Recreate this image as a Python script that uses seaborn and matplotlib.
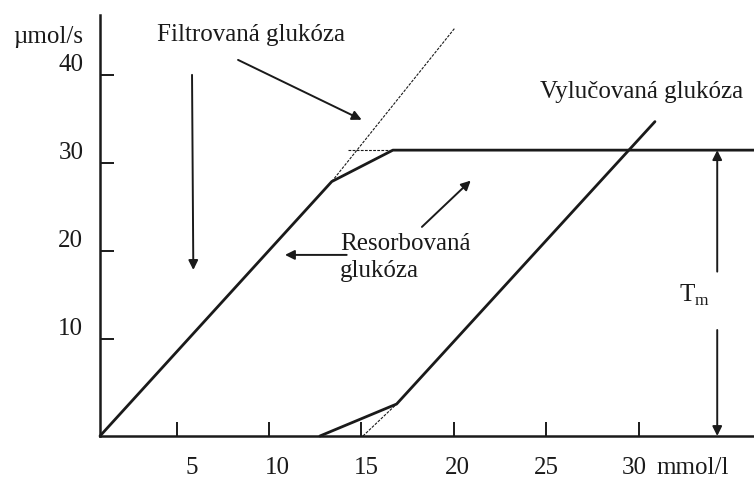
import matplotlib
matplotlib.use("Agg")
import matplotlib.pyplot as plt
import matplotlib.transforms as mtrans
import pandas as pd
import seaborn as sns

# === data (chart units)
filtered_x = [0.85, 13.39, 16.70, 36.24]
filtered_y = [-1.02, 27.88, 31.45, 31.45]
filtered_ext_x = [13.39, 20.06]
filtered_ext_y = [27.88, 45.34]
tm_ext_x = [14.26, 16.70]
tm_ext_y = [31.45, 31.45]
excreted_x = [12.75, 16.90, 30.88]
excreted_y = [-1.02, 2.61, 34.69]
excreted_ext_x = [15.08, 16.90]
excreted_ext_y = [-1.02, 2.61]

x_ticks = [5, 10, 15, 20, 25, 30]
y_ticks = [10, 20, 30, 40]

# === style
sns.set_theme(style="white")
plt.rcParams["font.family"] = ["Liberation Serif", "DejaVu Serif"]
plt.rcParams["mathtext.fontset"] = "custom"
plt.rcParams["mathtext.rm"] = "Liberation Serif"
ink = "#1a1a1a"
fs = 18

fig = plt.figure(figsize=(7.54, 4.79), dpi=100)
ax = fig.add_axes([100 / 754, 43 / 479, 654 / 754, 421 / 479])

solid = dict(color=ink, lw=2.0, sort=False, estimator=None, clip_on=False, ax=ax)
dashed = dict(color=ink, lw=0.8, ls=(0, (2.5, 1.2)), sort=False, estimator=None, ax=ax)

sns.lineplot(data=pd.DataFrame({"x": filtered_x, "y": filtered_y}), x="x", y="y", **solid)
sns.lineplot(data=pd.DataFrame({"x": excreted_x, "y": excreted_y}), x="x", y="y", **solid)
sns.lineplot(data=pd.DataFrame({"x": filtered_ext_x, "y": filtered_ext_y}), x="x", y="y", **dashed)
sns.lineplot(data=pd.DataFrame({"x": tm_ext_x, "y": tm_ext_y}), x="x", y="y", **dashed)
sns.lineplot(data=pd.DataFrame({"x": excreted_ext_x, "y": excreted_ext_y}), x="x", y="y", **dashed)

ax.set_xlim(0.85, 36.24)
ax.set_ylim(-1.02, 46.8)
ax.set_xlabel("")
ax.set_ylabel("")
for s in ["top", "right"]:
    ax.spines[s].set_visible(False)
for s in ["left", "bottom"]:
    ax.spines[s].set_linewidth(1.8)
    ax.spines[s].set_color(ink)

ax.set_xticks(x_ticks)
ax.set_xticklabels([str(t) for t in x_ticks])
ax.set_yticks(y_ticks)
ax.set_yticklabels([str(t) for t in y_ticks])
ax.tick_params(axis="both", direction="in", length=10, width=1.4, color=ink,
               labelsize=fs, labelcolor=ink, bottom=True, left=True)
ax.tick_params(axis="x", pad=15)
ax.tick_params(axis="y", pad=12)
# hand-set labels in the original sit a little off their ticks
for lab, dx in zip(ax.get_xticklabels(), [0.15, 0.08, 0.05, 0.03, 0.0, -0.04]):
    lab.set_transform(lab.get_transform() + mtrans.ScaledTranslation(dx, 0, fig.dpi_scale_trans))
for lab in ax.get_yticklabels():
    lab.set_transform(lab.get_transform() + mtrans.ScaledTranslation(0, 0.12, fig.dpi_scale_trans))

# === texts
txt = dict(fontsize=fs, color=ink, clip_on=False)
ax.text(-0.07, 44.3, "µmol/s", ha="right", va="center", **txt)
ax.text(30.95, -1.02, "mmol/l", ha="left", va="top",
        transform=ax.transData + mtrans.ScaledTranslation(0, -0.21, fig.dpi_scale_trans), **txt)
ax.text(3.92, 44.55, "Filtrovaná glukóza", ha="left", va="center", **txt)
ax.text(13.84, 19.3, "Resorbovaná\nglukóza", ha="left", va="center", linespacing=1.3, **txt)
ax.text(24.66, 38.1, "Vylučovaná glukóza", ha="left", va="center", **txt)
ax.text(32.2, 15.0, r"T$_\mathrm{m}$", ha="left", va="center", **txt)

# === arrows
arr = dict(arrowstyle="-|>", lw=1.4, color=ink, mutation_scale=14, shrinkA=0, shrinkB=0)
for (x0, y0), (x1, y1) in [((8.32, 41.7), (15.01, 34.9)),
                           ((5.83, 40.0), (5.90, 17.84)),
                           ((14.2, 19.55), (10.86, 19.55)),
                           ((18.27, 22.73), (20.91, 27.99)),
                           ((34.25, 17.65), (34.25, 31.45)),
                           ((34.25, 11.02), (34.25, -1.02))]:
    ax.annotate("", xy=(x1, y1), xytext=(x0, y0), arrowprops=arr, annotation_clip=False)

fig.savefig("out.png", dpi=100)
